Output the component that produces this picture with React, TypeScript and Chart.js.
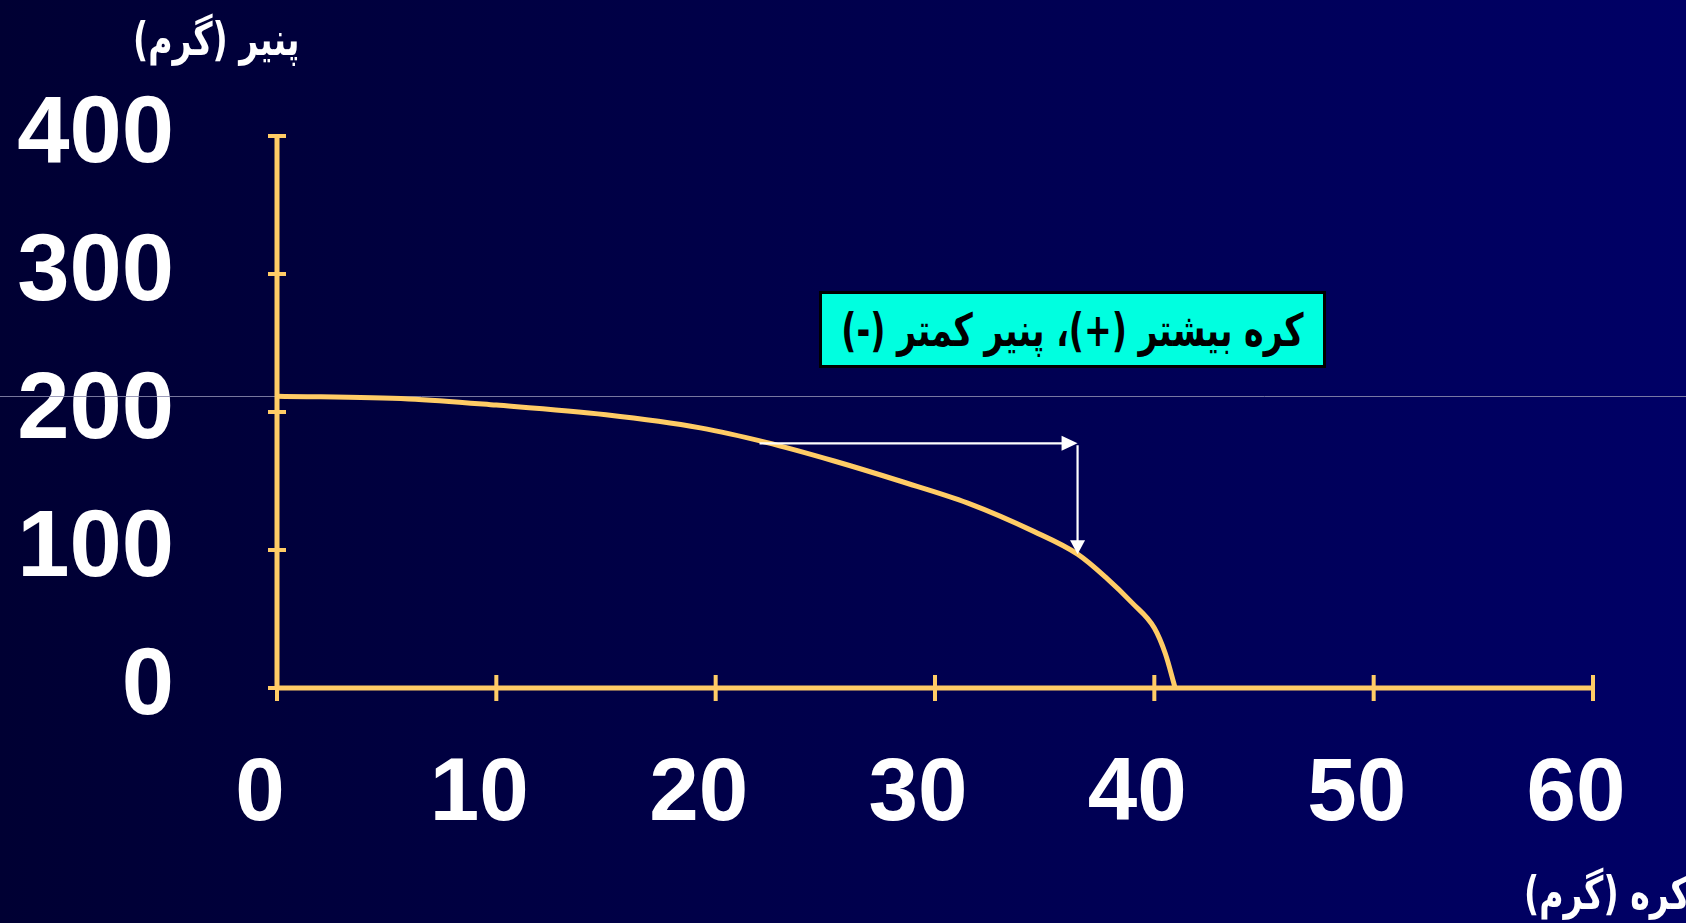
import React, { useEffect, useRef } from "react";
import { Chart, registerables } from "chart.js";

Chart.register(...registerables);

// ---- data ----
const butterGrams = [0, 6, 10, 15, 19.3, 22.3, 25.4, 28.4, 31.5, 34.5, 36.5, 37.8, 39, 40, 40.5, 40.95];
const cheeseGrams = [211.5, 209.5, 205, 198, 188.5, 178, 164.5, 150, 134, 113.5, 97, 80, 61.5, 43.5, 25, 0];
const xTicks = [0, 10, 20, 30, 40, 50, 60];
const yTicks = [0, 100, 200, 300, 400];
const arrowX = [22, 36.5];
const arrowY = [177.3, 97];
const yTitle = "پنیر (گرم)";
const xTitle = "کره (گرم)";
const noteText = "کره بیشتر (+)، پنیر کمتر (-)";

const W = 1686;
const H = 923;
const AXIS = "#FFCC66";

const bgPlugin = {
  id: "bg",
  beforeDraw(chart: any) {
    const { ctx } = chart;
    const g = ctx.createLinearGradient(0, 0, chart.width, 0);
    g.addColorStop(0, "#000033");
    g.addColorStop(1, "#000066");
    ctx.save();
    ctx.fillStyle = g;
    ctx.fillRect(0, 0, chart.width, chart.height);
    ctx.restore();
  },
};

const axesPlugin = {
  id: "axesDraw",
  beforeDatasetsDraw(chart: any) {
    const { ctx } = chart;
    const xs = chart.scales.x;
    const ys = chart.scales.y;
    ctx.save();
    // thin guide line at curve start level
    const gy = Math.round(ys.getPixelForValue(cheeseGrams[0])) + 0.5;
    ctx.strokeStyle = "rgba(140,140,175,0.85)";
    ctx.lineWidth = 1;
    ctx.beginPath();
    ctx.moveTo(0, gy);
    ctx.lineTo(chart.width, gy);
    ctx.stroke();

    // axes
    const x0 = xs.getPixelForValue(xTicks[0]);
    const x1 = xs.getPixelForValue(xTicks[xTicks.length - 1]);
    const y0 = ys.getPixelForValue(yTicks[0]);
    const y1 = ys.getPixelForValue(yTicks[yTicks.length - 1]);
    ctx.strokeStyle = AXIS;
    ctx.lineWidth = 5;
    ctx.lineCap = "butt";
    ctx.beginPath();
    ctx.moveTo(x0, y0);
    ctx.lineTo(x0, y1);
    ctx.moveTo(x0, y0);
    ctx.lineTo(x1, y0);
    ctx.stroke();
    ctx.lineWidth = 4;
    ctx.beginPath();
    xTicks.forEach((v) => {
      const p = xs.getPixelForValue(v);
      ctx.moveTo(p, y0 - 13);
      ctx.lineTo(p, y0 + 13);
    });
    yTicks.forEach((v) => {
      const p = ys.getPixelForValue(v);
      ctx.moveTo(x0 - 9, p);
      ctx.lineTo(x0 + 9, p);
    });
    ctx.stroke();
    ctx.restore();
  },
  afterDatasetsDraw(chart: any) {
    const { ctx } = chart;
    const xs = chart.scales.x;
    const ys = chart.scales.y;
    const ax0 = xs.getPixelForValue(arrowX[0]);
    const ax1 = xs.getPixelForValue(arrowX[1]);
    const ay0 = ys.getPixelForValue(arrowY[0]);
    const ay1 = ys.getPixelForValue(arrowY[1]);
    ctx.save();
    ctx.strokeStyle = "#FFFFFF";
    ctx.fillStyle = "#FFFFFF";
    ctx.lineWidth = 2.2;
    ctx.beginPath();
    ctx.moveTo(ax0, ay0);
    ctx.lineTo(ax1 - 14, ay0);
    ctx.moveTo(ax1, ay0 + 2);
    ctx.lineTo(ax1, ay1 - 12);
    ctx.stroke();
    // horizontal head
    ctx.beginPath();
    ctx.moveTo(ax1, ay0);
    ctx.lineTo(ax1 - 16, ay0 - 7.5);
    ctx.lineTo(ax1 - 16, ay0 + 7.5);
    ctx.closePath();
    ctx.fill();
    // vertical head
    ctx.beginPath();
    ctx.moveTo(ax1, ay1);
    ctx.lineTo(ax1 - 7.5, ay1 - 14);
    ctx.lineTo(ax1 + 7.5, ay1 - 14);
    ctx.closePath();
    ctx.fill();
    ctx.restore();
  },
};

export default function App() {
  const ref = useRef<HTMLCanvasElement | null>(null);

  useEffect(() => {
    document.body.style.margin = "0";
    const canvas = ref.current;
    if (!canvas) return;
    const chart = new Chart(canvas, {
      type: "scatter",
      data: {
        datasets: [
          {
            data: butterGrams.map((x, i) => ({ x, y: cheeseGrams[i] })),
            showLine: true,
            borderColor: AXIS,
            borderWidth: 5,
            pointRadius: 0,
            cubicInterpolationMode: "monotone",
            clip: false as any,
          },
        ],
      },
      options: {
        animation: false,
        responsive: false,
        devicePixelRatio: 1,
        layout: { padding: { top: 136, right: 93, left: 0, bottom: 0 } },
        plugins: {
          legend: { display: false },
          tooltip: { enabled: false },
          title: { display: false },
        },
        scales: {
          x: {
            type: "linear",
            min: 0,
            max: 60,
            border: { display: false },
            grid: { display: false, drawTicks: false, tickLength: 0 },
            ticks: {
              stepSize: 10,
              color: "#FFFFFF",
              font: { family: "'Liberation Sans', Arial, sans-serif", weight: "bold", size: 89 },
              padding: 54,
              labelOffset: -17,
              maxRotation: 0,
              autoSkip: false,
            },
            afterFit: (s: any) => {
              s.height = 235;
              s.paddingLeft = 0;
              s.paddingRight = 0;
            },
          },
          y: {
            type: "linear",
            min: 0,
            max: 400,
            border: { display: false },
            grid: { display: false, drawTicks: false, tickLength: 0 },
            ticks: {
              stepSize: 100,
              color: "#FFFFFF",
              font: { family: "'Liberation Sans', Arial, sans-serif", weight: "bold", size: 94 },
              padding: 103,
              autoSkip: false,
            },
            afterFit: (s: any) => {
              s.width = 277;
              s.paddingTop = 0;
              s.paddingBottom = 0;
            },
          },
        },
      },
      plugins: [bgPlugin, axesPlugin],
    });
    return () => chart.destroy();
  }, []);

  const arabicFont = "'DejaVu Sans', sans-serif";
  const textScale = "scale(0.83, 1.14)";

  return (
    <div
      style={{
        position: "fixed",
        left: 0,
        top: 0,
        width: W,
        height: H,
        overflow: "hidden",
        background: "#000040",
      }}
    >
      <canvas ref={ref} width={W} height={H} style={{ position: "absolute", left: 0, top: 0, width: W, height: H }} />
      <div
        dir="rtl"
        style={{
          position: "absolute",
          right: W - 300,
          top: 12,
          color: "#FFFFFF",
          fontFamily: arabicFont,
          fontWeight: "bold",
          fontSize: 40,
          lineHeight: "54px",
          whiteSpace: "nowrap",
          transform: textScale,
          transformOrigin: "right center",
        }}
      >
        {yTitle}
      </div>
      <div
        dir="rtl"
        style={{
          position: "absolute",
          right: -4,
          top: 866,
          color: "#FFFFFF",
          fontFamily: arabicFont,
          fontWeight: "bold",
          fontSize: 40,
          lineHeight: "54px",
          whiteSpace: "nowrap",
          transform: textScale,
          transformOrigin: "right center",
        }}
      >
        {xTitle}
      </div>
      <div
        style={{
          position: "absolute",
          left: 819,
          top: 291,
          width: 507,
          height: 77,
          boxSizing: "border-box",
          border: "3px solid #000000",
          background: "#00FFE0",
          display: "flex",
          alignItems: "center",
          justifyContent: "center",
        }}
      >
        <span
          dir="rtl"
          style={{
            color: "#000000",
            fontFamily: arabicFont,
            fontWeight: "bold",
            fontSize: 40,
            whiteSpace: "nowrap",
            display: "inline-block",
            transform: textScale,
            transformOrigin: "center center",
          }}
        >
          {noteText}
        </span>
      </div>
    </div>
  );
}
